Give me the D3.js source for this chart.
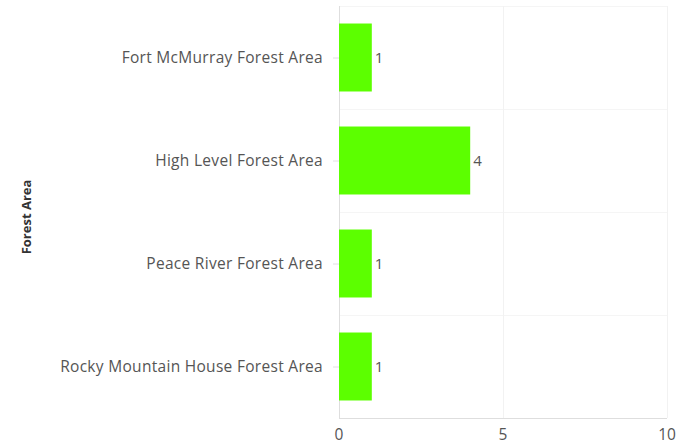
<!DOCTYPE html>
<html>
<head>
<meta charset="utf-8">
<script src="https://cdn.jsdelivr.net/npm/d3@7"></script>
<style>
    body { margin: 0; background: #fff; }
    .cat-label { font-family: "Open Sans", sans-serif; font-size: 15.5px; letter-spacing: 0.3px; fill: #555; }
    .tick-label { font-family: "Open Sans", sans-serif; font-size: 15.5px; fill: #555; }
    .value-label { font-family: "Open Sans", sans-serif; font-size: 15px; fill: #555; }
    .axis-title { font-family: "Open Sans", sans-serif; font-size: 13px; font-weight: bold; fill: #333; }
</style>
</head>
<body>
<svg id="chart"></svg>
<script>
const categories = [
    "Fort McMurray Forest Area",
    "High Level Forest Area",
    "Peace River Forest Area",
    "Rocky Mountain House Forest Area"
];
const counts = [1, 4, 1, 1];
const xTicks = [0, 5, 10];

const margin = { top: 6, right: 12, bottom: 29, left: 339 };
const width = 679 - margin.left - margin.right;
const height = 447 - margin.top - margin.bottom;

const svg = d3.select("#chart")
    .attr("width", 679)
    .attr("height", 447)
    .append("g")
    .attr("transform", `translate(${margin.left},${margin.top})`);

const x = d3.scaleLinear()
    .domain([0, 10])
    .range([0, width]);

const y = d3.scaleBand()
    .domain(categories)
    .range([0, height])
    .paddingInner(0.34)
    .paddingOuter(0.17);

// Band separators -- very faint horizontal lines.
const bandEdges = d3.range(categories.length).map(i => i * height / categories.length);
svg.selectAll(".band-line")
    .data(bandEdges)
    .enter().append("line")
    .attr("x1", 0)
    .attr("x2", width)
    .attr("y1", d => d + 0.5)
    .attr("y2", d => d + 0.5)
    .attr("stroke", "#f5f5f5")
    .attr("stroke-width", 1);

// Vertical grid lines.
svg.selectAll(".grid")
    .data(xTicks.slice(1))
    .enter().append("line")
    .attr("x1", d => x(d) + 0.5)
    .attr("x2", d => x(d) + 0.5)
    .attr("y1", 0)
    .attr("y2", height)
    .attr("stroke", "#f2f2f2")
    .attr("stroke-width", 1);

// Axis lines.
svg.append("line")
    .attr("x1", 0.5).attr("x2", 0.5)
    .attr("y1", 0).attr("y2", height)
    .attr("stroke", "#dedede");
svg.append("line")
    .attr("x1", 0).attr("x2", width)
    .attr("y1", height + 0.5).attr("y2", height + 0.5)
    .attr("stroke", "#dedede");

// Bars.
svg.selectAll(".bar")
    .data(counts)
    .enter().append("rect")
    .attr("x", x(0))
    .attr("y", (d, i) => y(categories[i]))
    .attr("width", d => x(d) - x(0))
    .attr("height", y.bandwidth())
    .attr("fill", "#5cff00");

// Value labels.
svg.selectAll(".value-label")
    .data(counts)
    .enter().append("text")
    .attr("class", "value-label")
    .attr("x", d => x(d) + 3)
    .attr("y", (d, i) => y(categories[i]) + y.bandwidth() / 2)
    .attr("dy", "0.35em")
    .text(d => d);

// Category tick marks and labels.
categories.forEach(c => {
    const cy = y(c) + y.bandwidth() / 2;
    svg.append("line")
        .attr("x1", -6).attr("x2", 0)
        .attr("y1", cy + 0.5).attr("y2", cy + 0.5)
        .attr("stroke", "#e0e0e0");
    svg.append("text")
        .attr("class", "cat-label")
        .attr("x", -16)
        .attr("y", cy)
        .attr("dy", "0.35em")
        .attr("text-anchor", "end")
        .text(c);
});

// X tick labels.
svg.selectAll(".tick-label")
    .data(xTicks)
    .enter().append("text")
    .attr("class", "tick-label")
    .attr("x", d => x(d))
    .attr("y", height + 22)
    .attr("text-anchor", "middle")
    .text(d => d);

// Y-axis title.
svg.append("text")
    .attr("class", "axis-title")
    .attr("transform", `translate(${-margin.left + 31},${height / 2 + 5}) rotate(-90)`)
    .attr("text-anchor", "middle")
    .text("Forest Area");
</script>
</body>
</html>
